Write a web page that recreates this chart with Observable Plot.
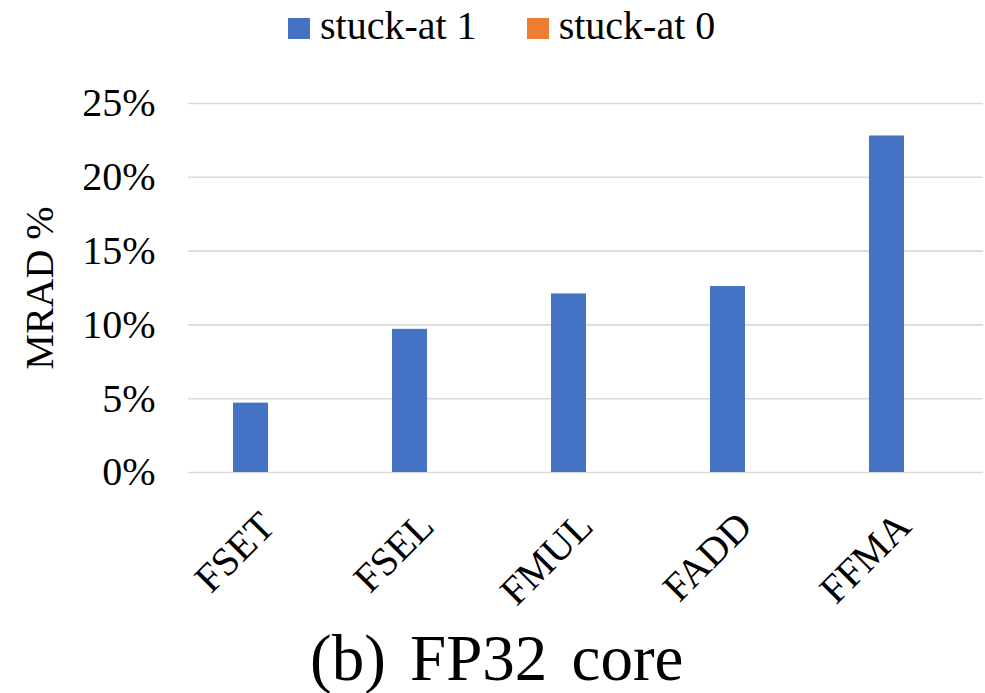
<!DOCTYPE html>
<html><head><meta charset="utf-8">
<script src="https://cdn.jsdelivr.net/npm/d3@7"></script>
<script src="https://cdn.jsdelivr.net/npm/@observablehq/plot@0.6"></script>
<style>
body{margin:0;background:#fff;color:#000;font-family:'Liberation Serif',serif;}
#legend{height:60px;display:flex;padding-left:288px;box-sizing:border-box;}
.item{display:flex;align-items:flex-start;font-size:40px;line-height:51px;margin-right:50px;font-family:'Liberation Serif',serif;}
.sw{width:22px;height:21px;margin-top:18px;margin-right:10px;}
#caption{font-size:65px;line-height:65px;height:67px;padding-top:8px;padding-left:310px;white-space:pre;word-spacing:8px;font-family:'Liberation Serif',serif;}
svg{display:block;}
</style></head>
<body>
<div id="legend" style="font-family:'Liberation Serif'"></div>
<div id="chart"></div>
<div id="caption" style="font-family:'Liberation Serif'"></div>
<script>
const categories = ['FSET', 'FSEL', 'FMUL', 'FADD', 'FFMA'];
const series = ['stuck-at 1', 'stuck-at 0'];
const stuckAt1 = [4.7, 9.7, 12.1, 12.6, 22.8];
const stuckAt0 = [0, 0, 0, 0, 0];
const colors = ['#4472C4', '#ED7D31'];
const yTicks = [0, 5, 10, 15, 20, 25];
const yLabel = 'MRAD %';
const captionText = '(b) FP32 core';
const FONT = "'Liberation Serif'";

const data = [];
categories.forEach((c, i) => {
  data.push({cat: c, series: series[0], value: stuckAt1[i]});
  data.push({cat: c, series: series[1], value: stuckAt0[i]});
});

const legend = document.getElementById('legend');
series.forEach((s, i) => {
  const it = document.createElement('div');
  it.className = 'item';
  it.style.fontFamily = FONT;
  const sw = document.createElement('div');
  sw.className = 'sw';
  sw.style.background = colors[i];
  const t = document.createElement('span');
  t.textContent = s;
  t.style.fontFamily = FONT;
  it.appendChild(sw); it.appendChild(t);
  legend.appendChild(it);
});
const cap = document.getElementById('caption');
cap.textContent = captionText;
cap.style.fontFamily = FONT;

const chart = Plot.plot({
  width: 985,
  height: 558,
  marginTop: 43,
  marginBottom: 146,
  marginLeft: 186,
  marginRight: 1,
  style: {fontFamily: FONT, fontSize: '40px', color: '#000', background: '#fff'},
  fx: {domain: categories, paddingInner: 0, paddingOuter: 0, label: null},
  x: {domain: series, paddingInner: 0, paddingOuter: 1.26, axis: null},
  y: {domain: [0, 25], label: null},
  color: {domain: series, range: colors},
  marks: [
    Plot.ruleY(yTicks, {stroke: '#d9d9d9', strokeWidth: 1.6}),
    Plot.barY(data, {fx: 'cat', x: 'series', y: 'value', fill: 'series'}),
    Plot.axisY({ticks: yTicks, tickSize: 0, tickPadding: 33, tickFormat: d => d + '%',
      label: yLabel, labelAnchor: 'center', labelArrow: 'none', labelOffset: 164, fontSize: 40}),
    Plot.axisFx({anchor: 'bottom', tickSize: 0, tickPadding: 47, tickRotate: -45, label: null, fontSize: 40})
  ]
});
chart.setAttribute('font-family', 'Liberation Serif');
chart.querySelectorAll('g, text').forEach(t => {
  t.setAttribute('font-family', 'Liberation Serif');
  t.style.fontFamily = FONT;
});
document.getElementById('chart').appendChild(chart);
</script>
</body></html>
